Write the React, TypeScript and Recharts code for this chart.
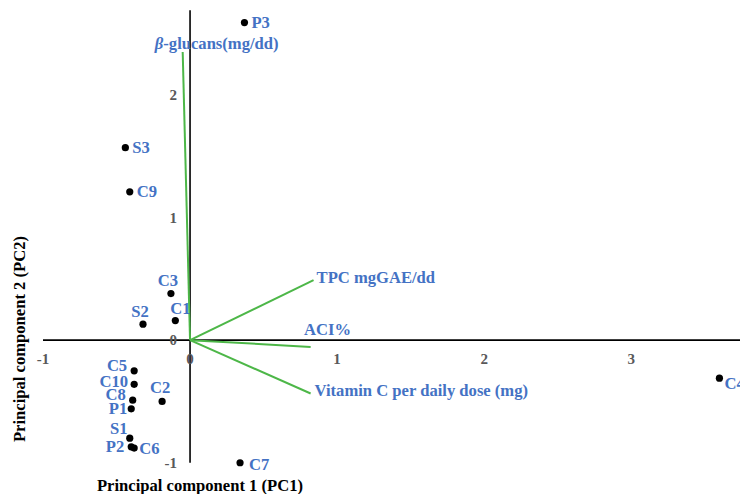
import React from 'react'
import { ScatterChart, Scatter, XAxis, YAxis, ReferenceLine } from 'recharts'

// sample scores (PC1, PC2)
const sampleNames = ['P3', 'S3', 'C9', 'C3', 'C1', 'S2', 'C5', 'C10', 'C8', 'P1', 'C2', 'S1', 'P2', 'C6', 'C7', 'C4']
const samplePC1 = [0.37, -0.44, -0.41, -0.13, -0.1, -0.32, -0.38, -0.38, -0.39, -0.4, -0.19, -0.41, -0.4, -0.38, 0.34, 3.6]
const samplePC2 = [2.59, 1.57, 1.21, 0.38, 0.16, 0.13, -0.25, -0.36, -0.49, -0.56, -0.5, -0.8, -0.87, -0.88, -1.0, -0.31]

// variable loadings
const loadingNames = ['β-glucans(mg/dd)', 'TPC mgGAE/dd', 'ACI%', 'Vitamin C per daily dose (mg)']
const loadingPC1 = [-0.05, 0.84, 0.82, 0.82]
const loadingPC2 = [2.35, 0.49, -0.055, -0.435]

const xTicks = [-1, 0, 1, 2, 3]
const yTicks = [-1, 0, 1, 2]

const xDomain: [number, number] = [-1, 3.74]
const yDomain: [number, number] = [-1.1, 2.75]
const yAxisTop = 2.69

// label placement: [dx, dy, anchor]
const sampleLabelPos: Record<string, [number, number, string]> = {
  P3: [7, 0, 'start'],
  S3: [7, 0, 'start'],
  C9: [7, 0, 'start'],
  C3: [-3, -13, 'middle'],
  C1: [5, -12, 'middle'],
  S2: [-3, -13, 'middle'],
  C5: [-7, -5, 'end'],
  C10: [-6, -3, 'end'],
  C8: [-7, -6, 'end'],
  P1: [-4, 0, 'end'],
  C2: [-2, -14, 'middle'],
  S1: [-11, -10, 'middle'],
  P2: [-7, 0, 'end'],
  C6: [5, 0, 'start'],
  C7: [9, 2, 'start'],
  C4: [5, 5, 'start'],
}
const loadingLabelPos: [number, number, string][] = [
  [34, -9, 'middle'],
  [3, -3, 'start'],
  [17, -17, 'middle'],
  [4, -3, 'start'],
]

const samples = sampleNames.map((name, i) => ({ name, x: samplePC1[i], y: samplePC2[i] }))
const loadings = loadingNames.map((name, i) => ({ name, i, x: loadingPC1[i], y: loadingPC2[i] }))
const xTickData = xTicks.map((v) => ({ x: v, y: 0, v }))
const yTickData = yTicks.map((v) => ({ x: 0, y: v, v }))

const FONT = '"Liberation Serif", "Times New Roman", serif'
const BLUE = '#4472C4'
const GREEN = '#4DB748'
const GREY = '#595959'
const LABEL_SIZE = 16.6

const SampleDot = (props: any) => {
  const { cx, cy, payload } = props
  const [dx, dy, anchor] = sampleLabelPos[payload.name] || [7, 0, 'start']
  return (
    <g>
      <circle cx={cx} cy={cy} r={3.6} fill="#000" />
      <text x={cx + dx} y={cy + dy} textAnchor={anchor as any} dominantBaseline="central"
        fontFamily={FONT} fontWeight="bold" fontSize={LABEL_SIZE} fill={BLUE}>
        {payload.name}
      </text>
    </g>
  )
}

const LoadingLabel = (props: any) => {
  const { cx, cy, payload } = props
  const [dx, dy, anchor] = loadingLabelPos[payload.i]
  const name: string = payload.name
  const isBeta = name.startsWith('β')
  return (
    <text x={cx + dx} y={cy + dy} textAnchor={anchor as any} dominantBaseline="central"
      fontFamily={FONT} fontWeight="bold" fontSize={LABEL_SIZE} fill={BLUE}>
      {isBeta ? (
        <>
          <tspan fontStyle="italic">β</tspan>
          <tspan>{name.slice(1)}</tspan>
        </>
      ) : name}
    </text>
  )
}

const XTick = (props: any) => (
  <text x={props.cx} y={props.cy + 19} textAnchor="middle" dominantBaseline="central"
    fontFamily={FONT} fontWeight="bold" fontSize={15} fill={GREY}>
    {props.payload.v}
  </text>
)

const YTick = (props: any) => (
  <text x={props.cx - 13} y={props.cy} textAnchor="end" dominantBaseline="central"
    fontFamily={FONT} fontWeight="bold" fontSize={15} fill={GREY}>
    {props.payload.v}
  </text>
)

export default function App() {
  return (
    <div style={{ position: 'relative', width: 740, height: 494, background: '#fff', overflow: 'hidden' }}>
      <style>{'body{margin:0}'}</style>
      <ScatterChart width={740} height={494} margin={{ top: 3, right: 0, bottom: 19, left: 43 }}>
        <XAxis type="number" dataKey="x" domain={xDomain} hide />
        <YAxis type="number" dataKey="y" domain={yDomain} hide />
        <ReferenceLine segment={[{ x: xDomain[0], y: 0 }, { x: xDomain[1], y: 0 }]} stroke="#000" strokeWidth={1.6} ifOverflow="visible" />
        <ReferenceLine segment={[{ x: 0, y: -1 }, { x: 0, y: yAxisTop }]} stroke="#000" strokeWidth={1.6} ifOverflow="visible" />
        {loadings.map((l) => (
          <ReferenceLine key={l.name} segment={[{ x: 0, y: 0 }, { x: l.x, y: l.y }]} stroke={GREEN} strokeWidth={2} ifOverflow="visible" />
        ))}
        <Scatter data={xTickData} shape={XTick} isAnimationActive={false} />
        <Scatter data={yTickData} shape={YTick} isAnimationActive={false} />
        <Scatter data={loadings} shape={LoadingLabel} isAnimationActive={false} />
        <Scatter data={samples} shape={SampleDot} isAnimationActive={false} />
      </ScatterChart>
      <div style={{ position: 'absolute', left: 0, width: 400, top: 476, textAlign: 'center', fontFamily: FONT, fontWeight: 'bold', fontSize: LABEL_SIZE, color: '#000', lineHeight: '20px' }}>
        Principal component 1 (PC1)
      </div>
      <div style={{ position: 'absolute', left: 20, top: 339, width: 0, height: 0 }}>
        <div style={{ position: 'absolute', left: -150, top: -10, width: 300, textAlign: 'center', transform: 'rotate(-90deg)', fontFamily: FONT, fontWeight: 'bold', fontSize: LABEL_SIZE, color: '#000', lineHeight: '20px', whiteSpace: 'nowrap' }}>
          Principal component 2 (PC2)
        </div>
      </div>
    </div>
  )
}
